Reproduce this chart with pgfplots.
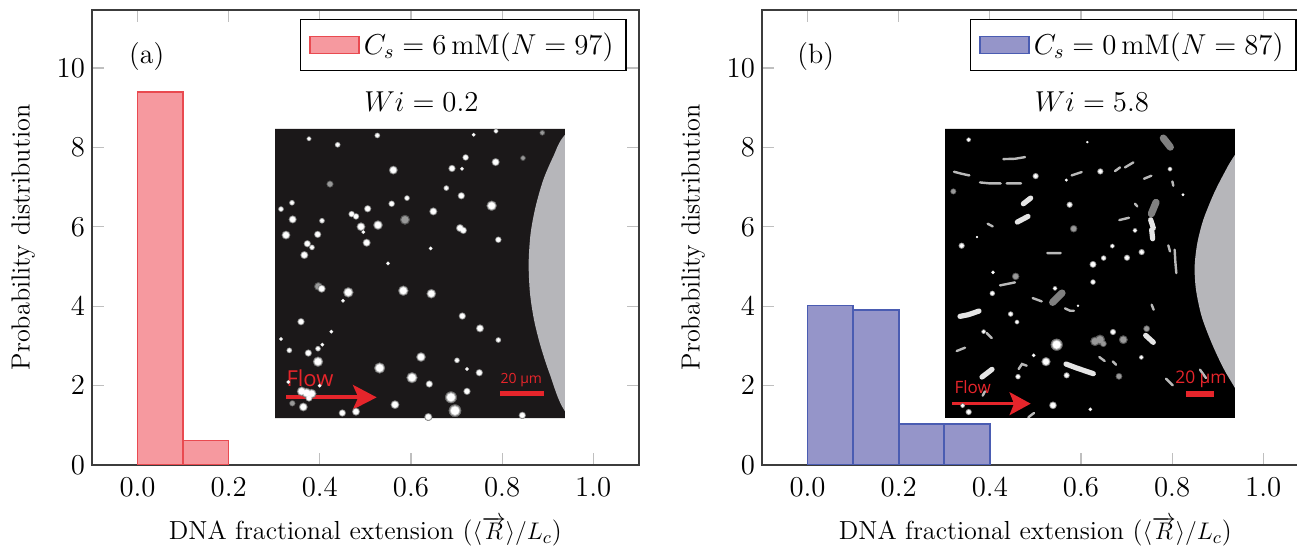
\documentclass[border=0pt]{standalone}
\usepackage{fontspec}
\usepackage{pgfplots}
\usepackage{pgfplotstable}
\pgfplotsset{compat=1.18}
\newfontfamily\insetfont{Open Sans}

\definecolor{redfill}{HTML}{F6999F}
\definecolor{redline}{HTML}{E94A50}
\definecolor{bluefill}{HTML}{9595C9}
\definecolor{blueline}{HTML}{4A5CB2}
\definecolor{flowred}{HTML}{E6252B}
\definecolor{frame}{HTML}{3C3C3C}
\definecolor{wall}{HTML}{B6B6BA}
\definecolor{darkbg}{HTML}{1B1819}

% inset spots, positions in crop pixels of the micrographs, r = radius
\pgfplotstableread{
x y r
117 57 6
203 75 7
322 47 7
611 45 5
678 34 6
587 113 8
677 127 10
546 146 9
576 147 5
370 151 11
529 205 7
574 228 9
411 235 7
365 252 8
66 249 7
33 268 7
293 267 9
490 275 10
665 258 13
156 303 7
68 299 10
245 283 8
258 290 8
324 316 12
273 321 11
570 325 10
580 332 9
280 337 5
48 346 11
143 344 9
685 360 8
290 369 10
112 372 9
126 383 7
482 386 5
103 406 10
354 431 5
155 507 10
235 518 13
400 513 13
484 522 12
219 543 5
577 589 9
93 606 9
630 626 10
184 636 5
685 661 7
33 658 5
157 675 5
144 687 7
58 692 7
115 700 9
453 712 12
144 726 13
561 722 7
329 745 14
591 748 5
628 759 9
426 774 14
478 793 9
591 815 9
543 833 15
375 855 11
555 873 16
475 892 10
217 880 9
258 876 10
100 862 11
757 887 9
149 798 5
55 787 5
95 815 12
110 820 13
125 822 12
117 835 9
}\spotsa
\pgfplotstableread{
x y r
817 39 7
759 115 7
180 193 9
405 300 13
145 500 11
67 851 8
}\dimspotsa
\pgfplotstableread{
x y r
86 60 6
442 67 3
481 155 8
287 169 8
379 181 4
690 148 6
729 225 4
389 255 8
585 332 6
111 352 3
65 378 8
517 379 6
605 397 8
491 415 7
561 414 8
459 434 9
159 458 5
459 487 7
345 506 6
157 521 7
414 558 3
212 583 7
231 607 6
131 636 6
519 637 8
350 675 16
604 713 6
281 707 5
318 726 12
380 767 8
234 771 7
339 857 10
451 869 5
68 858 6
86 877 8
}\spotsb
\pgfplotstableread{
x y r
40 215 8
401 327 10
227 470 10
620 627 9
550 660 12
465 665 13
480 660 14
490 672 9
537 770 9
}\dimspotsb
% stretched molecules, nan rows break the line
\pgfplotstableread{
x y
190 118
225 117
255 112
nan nan
42 156
65 162
88 167
nan nan
120 188
150 191
182 191
nan nan
200 191
243 191
nan nan
395 167
425 157
nan nan
555 143
580 128
nan nan
525 154
540 143
nan nan
612 177
634 168
nan nan
700 198
697 185
nan nan
585 252
592 260
nan nan
538 301
567 294
nan nan
143 312
158 320
nan nan
322 400
362 400
nan nan
180 497
225 488
nan nan
278 535
305 545
nan nan
375 566
390 573
402 573
nan nan
685 377
690 395
nan nan
704 390
706 425
709 460
nan nan
635 555
641 570
nan nan
50 694
75 684
nan nan
478 712
494 724
nan nan
518 725
528 735
nan nan
678 777
698 797
nan nan
780 750
798 775
nan nan
236 748
246 733
260 738
nan nan
128 828
135 815
nan nan
265 893
282 880
nan nan
140 640
155 655
}\thinstreaks
\pgfplotstableread{
x y
250 252
272 235
nan nan
232 307
264 290
nan nan
60 590
85 585
117 574
nan nan
126 772
156 749
nan nan
378 733
410 745
nan nan
410 745
460 762
nan nan
632 300
640 325
nan nan
635 330
638 357
nan nan
617 647
640 668
}\thickstreaks
\pgfplotstableread{
x y
670 55
691 82
nan nan
634 282
648 248
nan nan
338 548
366 520
}\dimstreaks

\pgfplotsset{
  histo/.style={
    scale only axis, width=273.4pt, height=227.5pt,
    xmin=-0.1, xmax=1.1, ymin=0, ymax=11.46,
    xtick={0,0.2,0.4,0.6,0.8,1}, ytick={0,2,4,6,8,10},
    x tick label as interval=false,
    xticklabel style={/pgf/number format/fixed, /pgf/number format/fixed zerofill, /pgf/number format/precision=1, yshift=-3pt},
    tick label style={font=\fontsize{13.7}{16}\selectfont},
    major tick length=6pt,
    tick style={gray!50, line width=0.6pt},
    axis line style={frame, line width=0.9pt},
    xlabel={DNA fractional extension ($\langle\overrightarrow{R}\rangle/L_c$)},
    ylabel={Probability distribution},
    every axis x label/.style={at={(axis description cs:0.5,-0.146)}, anchor=center, font=\fontsize{13.05}{15}\selectfont},
    every axis y label/.style={at={(axis description cs:-0.126,0.5)}, anchor=center, rotate=90, font=\fontsize{13.1}{15}\selectfont},
    legend style={at={(0.978,0.98)}, anchor=north east, draw=black, line width=0.7pt,
      font=\fontsize{14.2}{17}\selectfont, inner xsep=4.25pt, inner ysep=4.5pt},
  },
  boxlegend/.style={legend image code/.code={\draw[##1] (0pt,-4.2pt) rectangle (24.5pt,4.2pt);}},
  micro/.style={
    scale only axis, width=145pt, height=144.6pt, hide axis,
    xmin=15, xmax=885, ymin=27, ymax=895, y dir=reverse,
  },
  spot/.style 2 args={
    only marks, scatter, mark=*, mark options={line width=0.15pt},
    scatter/use mapped color={draw=#1, fill=#1},
    visualization depends on={\thisrow{r} \as \rr},
    scatter/@pre marker code/.append style={/tikz/mark size=#2*\rr/6},
  },
}

\begin{document}
\begin{tikzpicture}
\path[use as bounding box] (0,0) rectangle (648.5pt,273pt);

% (a)
\begin{axis}[histo, at={(46pt,40.5pt)}, anchor=south west]
\addplot[ybar interval, fill=redfill, draw=redline, line width=0.8pt, boxlegend]
  coordinates {(0,9.4) (0.1,0.62) (0.2,0.62)};
\legend{$C_s=6\,\mathrm{mM}(N=97)$}
\node[font=\fontsize{14}{16}\selectfont] at (axis cs:0.02,10.3) {(a)};
\node[font=\fontsize{14.2}{17}\selectfont] at (axis cs:0.623,9.14) {$Wi=0.2$};
\end{axis}

\begin{axis}[micro, at={(137.5pt,64pt)}, anchor=south west]
\addplot[fill=darkbg, draw=none] coordinates {(15,27) (885,27) (885,895) (15,895)} \closedcycle;
\addplot[fill=wall, draw=none, smooth] coordinates {(1000,-60) (885,45) (850,110) (820,180) (797,260) (782,340) (776,430) (780,520) (792,600) (812,680) (840,765) (885,875) (1000,1000)};
\addplot[spot={black!65}{1.1}] table {\dimspotsa};
\addplot[spot={black!40}{0.8}] table {\dimspotsa};
\addplot[spot={black!55}{1.15}] table {\spotsa};
\addplot[spot={black!25}{0.95}] table {\spotsa};
\addplot[spot={white}{0.75}] table {\spotsa};
\addplot[flowred, line width=2pt] coordinates {(48,833) (270,833)};
\addplot[fill=flowred, draw=none] coordinates {(248,795) (320,833) (248,870) (265,833)} -- cycle;
\addplot[flowred, line width=2.6pt] coordinates {(690,822) (823,822)};
\node[text=flowred, font=\insetfont\fontsize{11}{13}\selectfont] at (axis cs:120,775) {Flow};
\node[text=flowred, font=\insetfont\fontsize{7}{9}\selectfont] at (axis cs:754,780) {20 µm};
\end{axis}

% (b)
\begin{axis}[histo, at={(381pt,40.5pt)}, anchor=south west]
\addplot[ybar interval, fill=bluefill, draw=blueline, line width=0.8pt, boxlegend]
  coordinates {(0,4.02) (0.1,3.9) (0.2,1.04) (0.3,1.04) (0.4,1.04)};
\legend{$C_s=0\,\mathrm{mM}(N=87)$}
\node[font=\fontsize{14}{16}\selectfont] at (axis cs:0.018,10.3) {(b)};
\node[font=\fontsize{14.2}{17}\selectfont] at (axis cs:0.624,9.14) {$Wi=5.8$};
\end{axis}

\begin{axis}[micro, at={(472.5pt,64pt)}, anchor=south west]
\addplot[fill=black, draw=none] coordinates {(15,27) (885,27) (885,895) (15,895)} \closedcycle;
\addplot[fill=wall, draw=none, smooth] coordinates {(1000,-60) (885,105) (850,165) (820,225) (790,300) (772,370) (764,440) (768,510) (785,590) (815,670) (850,745) (885,805) (1000,1000)};
\addplot[spot={black!65}{1.05}] table {\dimspotsb};
\addplot[spot={black!40}{0.75}] table {\dimspotsb};
\addplot[spot={black!55}{1.1}] table {\spotsb};
\addplot[spot={black!25}{0.9}] table {\spotsb};
\addplot[spot={white}{0.7}] table {\spotsb};
\addplot[gray!55, line width=1.2pt, line cap=round, unbounded coords=jump] table {\thinstreaks};
\addplot[black!10, line width=2.6pt, line cap=round, unbounded coords=jump] table {\thickstreaks};
\addplot[black!50, line width=3.6pt, line cap=round, unbounded coords=jump] table {\dimstreaks};
\addplot[flowred, line width=1.4pt] coordinates {(37,852) (225,852)};
\addplot[fill=flowred, draw=none] coordinates {(208,817) (272,852) (208,887) (222,852)} -- cycle;
\addplot[flowred, line width=2.6pt] coordinates {(738,823) (822,823)};
\node[text=flowred, font=\insetfont\fontsize{8.5}{11}\selectfont] at (axis cs:98,802) {Flow};
\node[text=flowred, font=\insetfont\fontsize{8.7}{11}\selectfont] at (axis cs:783,780) {20 µm};
\end{axis}
\end{tikzpicture}
\end{document}
